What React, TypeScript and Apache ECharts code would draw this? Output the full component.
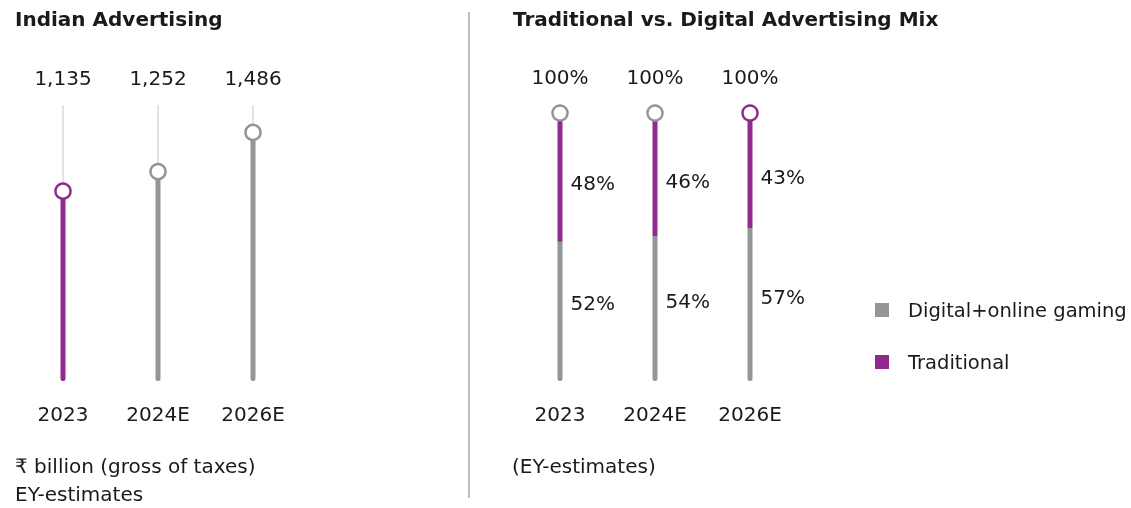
import React, { useEffect, useRef } from "react";
import * as echarts from "echarts";

const years = ["2023", "2024E", "2026E"];
const adSpend = [1135, 1252, 1486];
const adHighlight = [true, false, false];
const mixYears = ["2023", "2024E", "2026E"];
const digitalShare = [52, 54, 57];
const traditionalShare = [48, 46, 43];
const totalShare = [100, 100, 100];
const mixHighlight = [false, false, true];

const PURPLE = "#8F2A8F";
const GREY = "#939598";
const THIN = "#C8C8CA";
const TEXT = "#1A1A1A";
const FONT = "'DejaVu Sans', sans-serif";
const FS = 20;

export default function App() {
  const ref = useRef<HTMLDivElement>(null);
  useEffect(() => {
    if (!ref.current) return;
    const chart = echarts.init(ref.current, null, { renderer: "svg" });
    const leftMax = 1650;
    const axisLabel = { color: TEXT, fontSize: FS, fontFamily: FONT, margin: 23 };
    const circle = (hl: boolean) => ({ color: "#fff", opacity: 1, borderColor: hl ? PURPLE : GREY, borderWidth: 2.5 });
    const option: any = {
      animation: false,
      textStyle: { fontFamily: FONT },
      title: [
        { text: "Indian Advertising", left: 10, top: 4, textStyle: { fontSize: FS, fontWeight: "bold", color: TEXT, fontFamily: FONT } },
        { text: "Traditional vs. Digital Advertising Mix", left: 508, top: 4, textStyle: { fontSize: FS, fontWeight: "bold", color: TEXT, fontFamily: FONT } },
      ],
      legend: {
        data: ["Digital+online gaming", "Traditional"],
        orient: "vertical",
        left: 870,
        top: 295,
        itemWidth: 14,
        itemHeight: 14,
        itemGap: 32,
        icon: "rect",
        textStyle: { fontSize: 19.5, color: TEXT, fontFamily: FONT, padding: [0, 0, 0, 14] },
      },
      grid: [
        { left: 15.5, width: 285, top: 105, height: 276 },
        { left: 512.5, width: 285, top: 113, height: 268 },
      ],
      xAxis: [
        { type: "category", gridIndex: 0, data: years, axisLine: { show: false }, axisTick: { show: false }, axisLabel },
        { type: "category", gridIndex: 0, data: years, show: false },
        { type: "category", gridIndex: 1, data: mixYears, axisLine: { show: false }, axisTick: { show: false }, axisLabel },
      ],
      yAxis: [
        { type: "value", gridIndex: 0, min: 0, max: leftMax, show: false },
        { type: "value", gridIndex: 1, min: 0, max: 100, show: false },
      ],
      series: [
        {
          type: "bar",
          xAxisIndex: 1,
          yAxisIndex: 0,
          barWidth: 1,
          data: adSpend.map(() => leftMax),
          itemStyle: { color: THIN },
          label: {
            show: true,
            position: "top",
            distance: 17,
            fontSize: FS,
            color: TEXT,
            fontFamily: FONT,
            formatter: (p: any) => adSpend[p.dataIndex].toLocaleString("en-US"),
          },
          silent: true,
        },
        {
          type: "bar",
          xAxisIndex: 0,
          yAxisIndex: 0,
          barWidth: 5,
          z: 3,
          data: adSpend.map((v, i) => ({ value: v, itemStyle: { color: adHighlight[i] ? PURPLE : GREY, borderRadius: [0, 0, 2.5, 2.5] } })),
        },
        {
          type: "scatter",
          xAxisIndex: 0,
          yAxisIndex: 0,
          symbol: "circle",
          symbolSize: 15,
          z: 5,
          data: adSpend.map((v, i) => ({ value: v, itemStyle: circle(adHighlight[i]) })),
        },
        {
          name: "Digital+online gaming",
          type: "bar",
          xAxisIndex: 2,
          yAxisIndex: 1,
          stack: "mix",
          barWidth: 5,
          itemStyle: { color: GREY, borderRadius: [0, 0, 2.5, 2.5] },
          data: digitalShare,
          label: { show: true, position: "right", distance: 8, offset: [0, -8], fontSize: FS, color: TEXT, fontFamily: FONT, formatter: "{c}%" },
        },
        {
          name: "Traditional",
          type: "bar",
          xAxisIndex: 2,
          yAxisIndex: 1,
          stack: "mix",
          barWidth: 5,
          itemStyle: { color: PURPLE },
          data: traditionalShare,
          label: { show: true, position: "right", distance: 8, offset: [0, 6], fontSize: FS, color: TEXT, fontFamily: FONT, formatter: "{c}%" },
        },
        {
          type: "scatter",
          xAxisIndex: 2,
          yAxisIndex: 1,
          symbol: "circle",
          symbolSize: 15,
          z: 5,
          data: totalShare.map((v, i) => ({ value: v, itemStyle: circle(mixHighlight[i]) })),
          label: { show: true, position: "top", distance: 17, fontSize: FS, color: TEXT, fontFamily: FONT, formatter: "{c}%" },
        },
      ],
      graphic: [
        { type: "line", shape: { x1: 469, y1: 12, x2: 469, y2: 498 }, style: { stroke: "#A8A8A8", lineWidth: 1.5 } },
        { type: "text", left: 15, top: 456, style: { text: "₹ billion (gross of taxes)", fontSize: FS, fill: TEXT, fontFamily: FONT } },
        { type: "text", left: 15, top: 484, style: { text: "EY-estimates", fontSize: FS, fill: TEXT, fontFamily: FONT } },
        { type: "text", left: 512, top: 456, style: { text: "(EY-estimates)", fontSize: FS, fill: TEXT, fontFamily: FONT } },
      ],
    };
    chart.setOption(option);
    return () => chart.dispose();
  }, []);
  return <div ref={ref} style={{ position: "fixed", left: 0, top: 0, width: 1131, height: 508 }} />;
}
